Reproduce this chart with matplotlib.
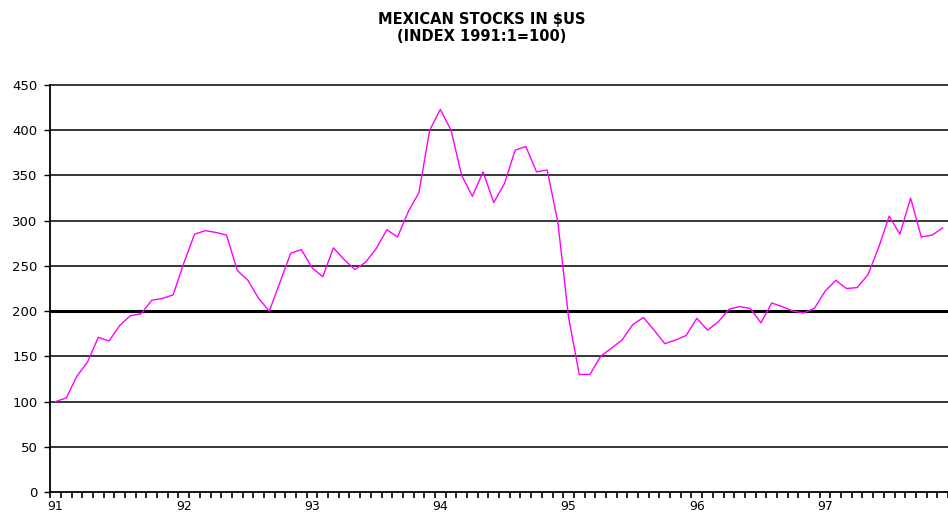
import matplotlib
matplotlib.use("Agg")
import matplotlib.pyplot as plt

# monthly index, 1991:1 = 100 (Jan 1991 .. Dec 1997)
idx_1991 = [100, 104, 128, 144, 171, 167, 184, 195, 197, 212, 214, 218]
idx_1992 = [253, 285, 289, 287, 284, 245, 234, 214, 200, 232, 264, 268]
idx_1993 = [248, 238, 270, 257, 246, 254, 269, 290, 282, 310, 331, 400]
idx_1994 = [423, 400, 350, 327, 354, 320, 341, 378, 382, 354, 356, 298]
idx_1995 = [193, 130, 130, 150, 159, 168, 185, 193, 179, 164, 168, 173]
idx_1996 = [192, 179, 188, 202, 205, 203, 187, 209, 205, 200, 198, 203]
idx_1997 = [222, 234, 225, 226, 240, 270, 305, 285, 325, 282, 284, 292]

year_labels = ["91", "92", "93", "94", "95", "96", "97"]
y_ticks = [0, 50, 100, 150, 200, 250, 300, 350, 400, 450]

values = idx_1991 + idx_1992 + idx_1993 + idx_1994 + idx_1995 + idx_1996 + idx_1997
months = list(range(len(values)))

fig = plt.figure(figsize=(9.48, 5.14), dpi=100)
ax = fig.add_axes([50 / 948, 22 / 514, 898 / 948, 407 / 514])

# grid lines, 200 drawn heavier
for t in y_ticks[1:]:
    ax.axhline(t, color="black", lw=1.1, zorder=1, clip_on=False)
ax.axhline(200, color="black", lw=2.2, zorder=1)

ax.plot(months, values, color="#ff00ff", lw=1.0, zorder=3)

ax.set_xlim(-0.52, 82.63)
ax.set_ylim(0, 450)

ax.set_yticks(y_ticks)
ax.set_yticklabels([str(t) for t in y_ticks])
ax.set_xticks(list(range(0, 12 * len(year_labels), 12)))
ax.set_xticklabels(year_labels)
ax.set_xticks([m - 0.5 for m in range(len(values) + 1)], minor=True)

ax.tick_params(axis="y", length=4, width=1, color="black", pad=5, labelsize=9.5)
ax.tick_params(axis="x", which="major", length=0, pad=6, labelsize=9)
ax.tick_params(axis="x", which="minor", length=4, width=1.2, color="black")

for s in ["top", "right"]:
    ax.spines[s].set_visible(False)
ax.spines["left"].set_linewidth(1.3)
ax.spines["bottom"].set_linewidth(1.3)

fig.text(482 / 948, 1 - 28 / 514, "MEXICAN STOCKS IN \\$US\n(INDEX 1991:1=100)",
         ha="center", va="center", fontsize=10.5, fontweight="bold", linespacing=1.2)

fig.savefig("out.png", dpi=100)
